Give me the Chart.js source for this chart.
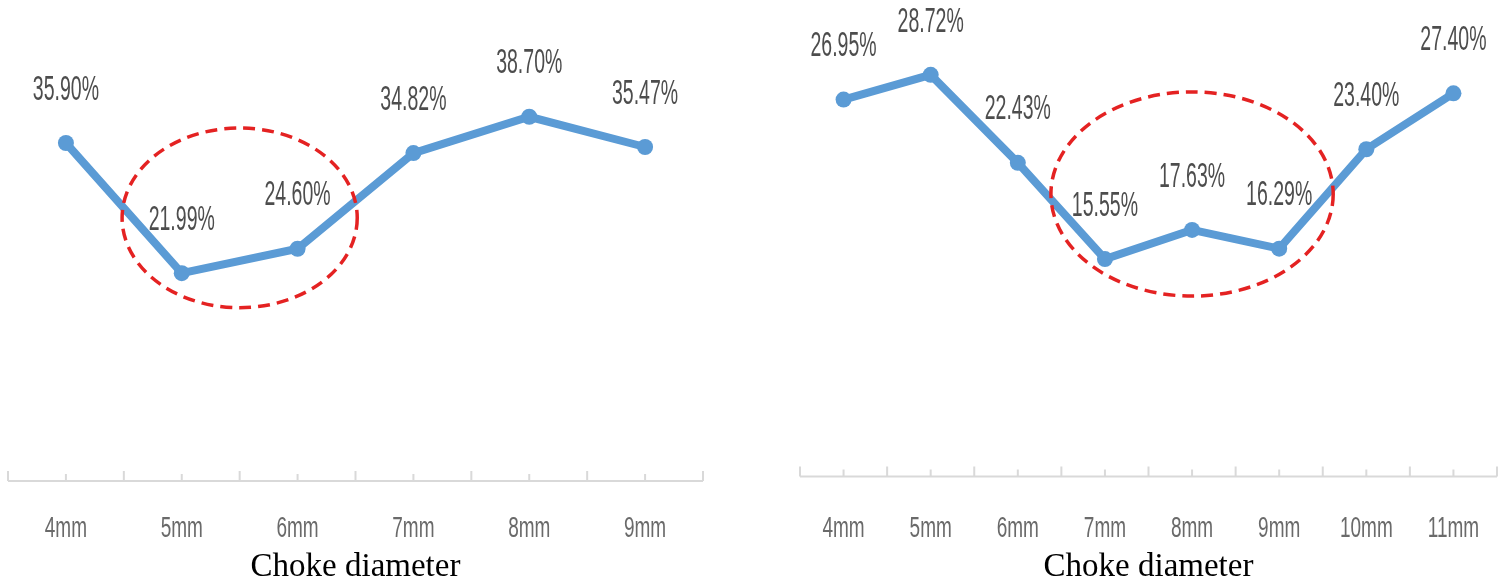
<!DOCTYPE html>
<html>
<head>
<meta charset="utf-8">
<script src="https://cdn.jsdelivr.net/npm/chart.js@4/dist/chart.umd.min.js"></script>
<style>
  html, body { margin: 0; padding: 0; background: #fff; }
  body { width: 1505px; height: 586px; position: relative; overflow: hidden; }
  .box { position: absolute; top: 0; height: 586px; }
  #leftBox { left: 0; width: 750px; }
  #rightBox { left: 752px; width: 753px; }
</style>
</head>
<body>
<div class="box" id="leftBox"><canvas id="leftChart"></canvas></div>
<div class="box" id="rightBox"><canvas id="rightChart"></canvas></div>
<script>
// left panel
const leftLabels = ['4mm', '5mm', '6mm', '7mm', '8mm', '9mm'];
const leftValues = [35.90, 21.99, 24.60, 34.82, 38.70, 35.47];
// right panel
const rightLabels = ['4mm', '5mm', '6mm', '7mm', '8mm', '9mm', '10mm', '11mm'];
const rightValues = [26.95, 28.72, 22.43, 15.55, 17.63, 16.29, 23.40, 27.40];
// dashed highlight ellipses, in data units: [center index, center %, radius in categories, radius in %]
const leftEllipse = [1.5, 27.9, 1.015, 9.6];
const rightEllipse = [4.0, 20.2, 1.62, 7.3];

const lineBlue = '#5b9bd5';

// text in the picture is tall and narrow, so it gets stretched vertically
function stretchText(ctx, text, x, y, size, sy, color) {
  ctx.save();
  ctx.translate(x, y);
  ctx.scale(1, sy);
  ctx.font = size + 'px "Liberation Sans", Arial, sans-serif';
  ctx.fillStyle = color;
  ctx.textAlign = 'center';
  ctx.textBaseline = 'middle';
  ctx.fillText(text, 0, 0);
  ctx.restore();
}

const decorations = {
  id: 'decorations',
  afterDatasetsDraw(chart, args, opts) {
    const ctx = chart.ctx;
    const x = chart.scales.x;
    const y = chart.scales.y;
    const n = chart.data.labels.length;

    // axis line with tick marks pointing up
    const axisY = chart.chartArea.bottom + opts.axisShift;
    ctx.save();
    ctx.strokeStyle = '#d9d9d9';
    ctx.lineWidth = 2;
    ctx.beginPath();
    ctx.moveTo(x.getPixelForValue(-0.5), axisY);
    ctx.lineTo(x.getPixelForValue(n - 0.5), axisY);
    for (let i = 0; i <= n; i++) {
      const px = x.getPixelForValue(i - 0.5);
      ctx.moveTo(px, axisY);
      ctx.lineTo(px, axisY - 10);
    }
    for (let i = 0; i < n; i++) {
      const px = x.getPixelForValue(i);
      ctx.moveTo(px, axisY);
      ctx.lineTo(px, axisY - 7);
    }
    ctx.stroke();
    ctx.restore();

    // category labels
    chart.data.labels.forEach((lab, i) => {
      stretchText(ctx, lab, x.getPixelForValue(i), 529, 19, 1.6, '#6a6a6a');
    });

    // value labels above points
    const meta = chart.getDatasetMeta(0);
    meta.data.forEach((pt, i) => {
      const v = chart.data.datasets[0].data[i];
      stretchText(ctx, v.toFixed(2) + '%', pt.x, pt.y - 53, 19.5, 1.8, '#4d4d4d');
    });

    // red dashed ellipse
    const e = opts.ellipse;
    const cx = x.getPixelForValue(e[0]);
    const cy = y.getPixelForValue(e[1]);
    const rx = x.getPixelForValue(e[0] + e[2]) - cx;
    const ry = y.getPixelForValue(e[1] - e[3]) - cy;
    ctx.save();
    ctx.strokeStyle = '#e42222';
    ctx.lineWidth = 3.5;
    ctx.setLineDash([12, 7]);
    ctx.beginPath();
    ctx.ellipse(cx, cy, rx, ry, 0, 0, Math.PI * 2);
    ctx.stroke();
    ctx.restore();
  }
};

function makeChart(id, labels, values, yMax, pad, titlePadTop, ellipse, axisShift) {
  return new Chart(document.getElementById(id), {
    type: 'line',
    data: {
      labels: labels,
      datasets: [{
        data: values,
        borderColor: lineBlue,
        backgroundColor: lineBlue,
        borderWidth: 8,
        pointRadius: 8,
        pointBackgroundColor: lineBlue,
        pointBorderWidth: 0,
        tension: 0,
        clip: false
      }]
    },
    options: {
      responsive: true,
      maintainAspectRatio: false,
      animation: false,
      layout: { padding: pad },
      plugins: {
        legend: { display: false },
        tooltip: { enabled: false },
        decorations: { ellipse: ellipse, axisShift: axisShift }
      },
      scales: {
        x: {
          type: 'category',
          offset: true,
          grid: { display: false, drawTicks: false },
          border: { display: false },
          ticks: { display: false },
          title: {
            display: true,
            text: 'Choke diameter',
            color: '#000',
            font: { family: '"Liberation Serif", "Times New Roman", serif', size: 33, lineHeight: 1 },
            padding: { top: titlePadTop, bottom: 2 }
          }
        },
        y: {
          display: false,
          min: 0,
          max: yMax
        }
      }
    },
    plugins: [decorations]
  });
}

makeChart('leftChart', leftLabels, leftValues, 50,
  { left: 5, right: 47, top: 11, bottom: 0 }, 72, leftEllipse, 2);
makeChart('rightChart', rightLabels, rightValues, 33.5,
  { left: 48, right: 5, top: 6, bottom: 0 }, 74.5, rightEllipse, 0);
</script>
</body>
</html>
